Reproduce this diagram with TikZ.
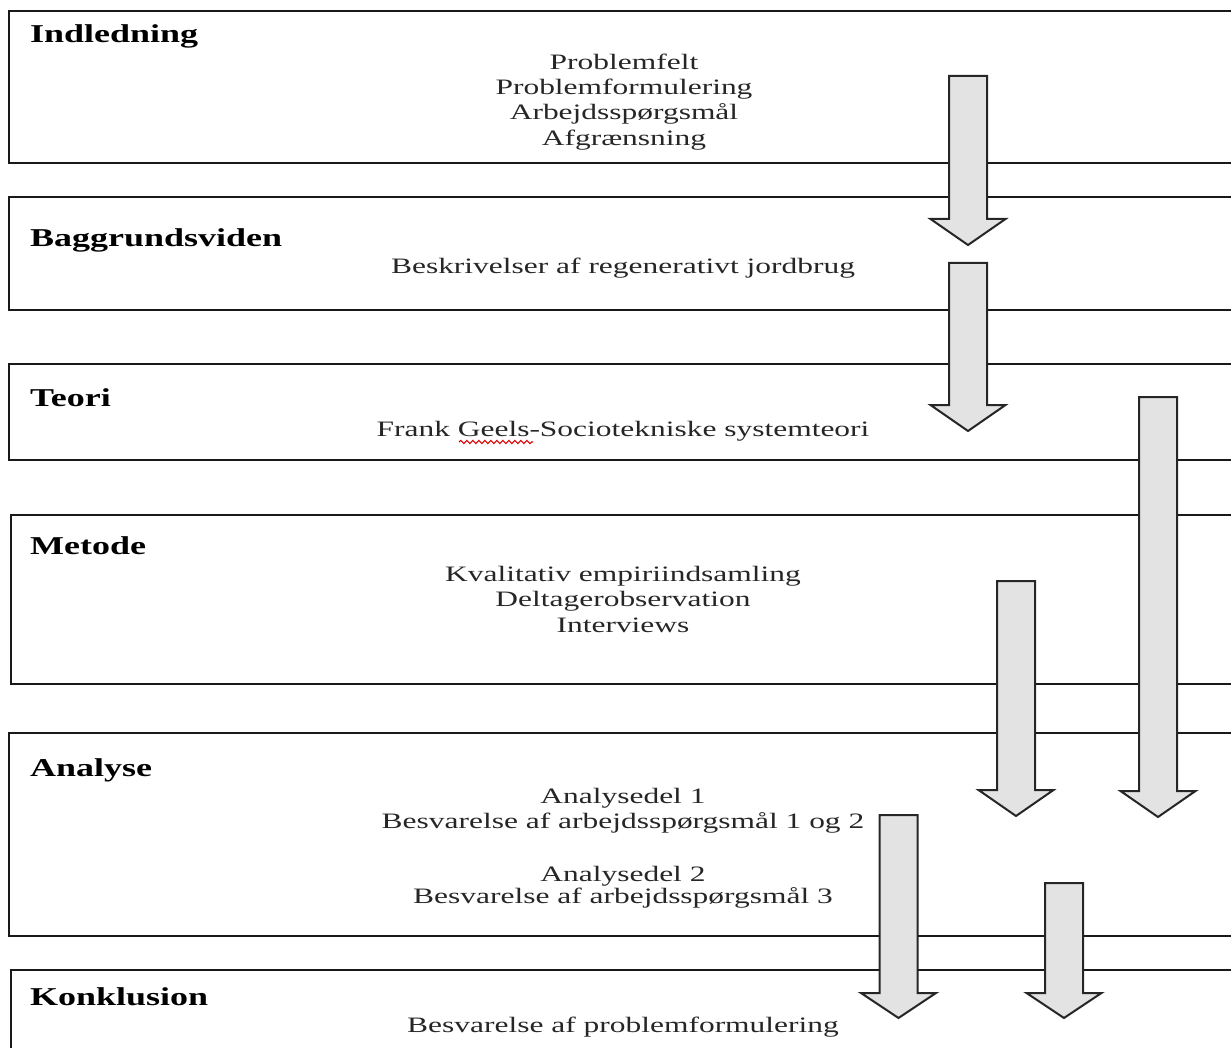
\documentclass[tikz,border=0pt]{standalone}
\usepackage{fontspec}
\setmainfont{Liberation Serif}
\newfontfamily\bodyfont[FakeStretch=1.43]{Liberation Serif}
\newfontfamily\headfont[FakeStretch=1.4]{Liberation Serif}
\usetikzlibrary{decorations.pathmorphing}
\tikzset{
  box/.style={draw=black!90, line width=2pt, anchor=north west, inner sep=0pt, rectangle, minimum width=1300pt},
  head/.style={anchor=base west, inner sep=0pt, font=\headfont\bfseries\fontsize{25.7}{30}\selectfont},
  body/.style={anchor=base, inner sep=0pt, text=black!85, font=\bodyfont\fontsize{22}{26}\selectfont},
  barrow/.style={draw=black!85, fill=black!11, line width=2pt, line join=miter},
}
\newcommand\blockarrow[4]{%
  \draw[barrow] (#1-19,#2) -- (#1+19,#2) -- (#1+19,#3) -- (#1+37.5,#3) -- (#1,#4) -- (#1-37.5,#3) -- (#1-19,#3) -- cycle;}
\begin{document}
\begin{tikzpicture}[x=1pt,y=-1pt]
\useasboundingbox (0,0) rectangle (1231,1048);
\clip (0,0) rectangle (1231,1048);
% boxes
\node[box, minimum height=152pt] (b1) at (8,10) {};
\node[box, minimum height=113pt] (b2) at (8,196) {};
\node[box, minimum height=96pt]  (b3) at (8,363) {};
\node[box, minimum height=169pt] (b4) at (10,514) {};
\node[box, minimum height=203pt] (b5) at (8,732) {};
\node[box, minimum height=200pt] (b6) at (10,969) {};
% headings
\node[head] (h1) at (30,43) {Indledning};
\node[head] (h2) at (30,247) {Baggrundsviden};
\node[head] (h3) at (30,406) {Teori};
\node[head] (h4) at (30,554) {Metode};
\node[head] (h5) at (30,776) {Analyse};
\node[head] (h6) at (30,1005) {Konklusion};
% body texts
\node[body] (t11) at (624,69.5) {Problemfelt};
\node[body] (t12) at (624,94.5) {Problemformulering};
\node[body] (t13) at (624,120) {Arbejdsspørgsmål};
\node[body] (t14) at (624,145.5) {Afgrænsning};
\node[body] (t21) at (623,274) {Beskrivelser af regenerativt jordbrug};
\node[body] (t31) at (623,436) {Frank Geels-Sociotekniske systemteori};
\draw[red!85!black, line width=1.1pt, decorate, decoration={snake, segment length=6pt, amplitude=1.6pt}] (459,442) -- (533,442);
\node[body] (t41) at (623,581) {Kvalitativ empiriindsamling};
\node[body] (t42) at (623,606) {Deltagerobservation};
\node[body] (t43) at (623,632) {Interviews};
\node[body] (t51) at (623,803) {Analysedel 1};
\node[body] (t52) at (623,828) {Besvarelse af arbejdsspørgsmål 1 og 2};
\node[body] (t53) at (623,881) {Analysedel 2};
\node[body] (t54) at (623,903) {Besvarelse af arbejdsspørgsmål 3};
\node[body] (t61) at (623,1032) {Besvarelse af problemformulering};
% block arrows
\blockarrow{968}{76}{219}{245}
\blockarrow{968}{263}{405}{431}
\blockarrow{1158}{397}{791}{817}
\blockarrow{1016}{581}{790}{816}
\blockarrow{898.5}{815}{993}{1018}
\blockarrow{1064}{883}{993}{1018}
\end{tikzpicture}
\end{document}
